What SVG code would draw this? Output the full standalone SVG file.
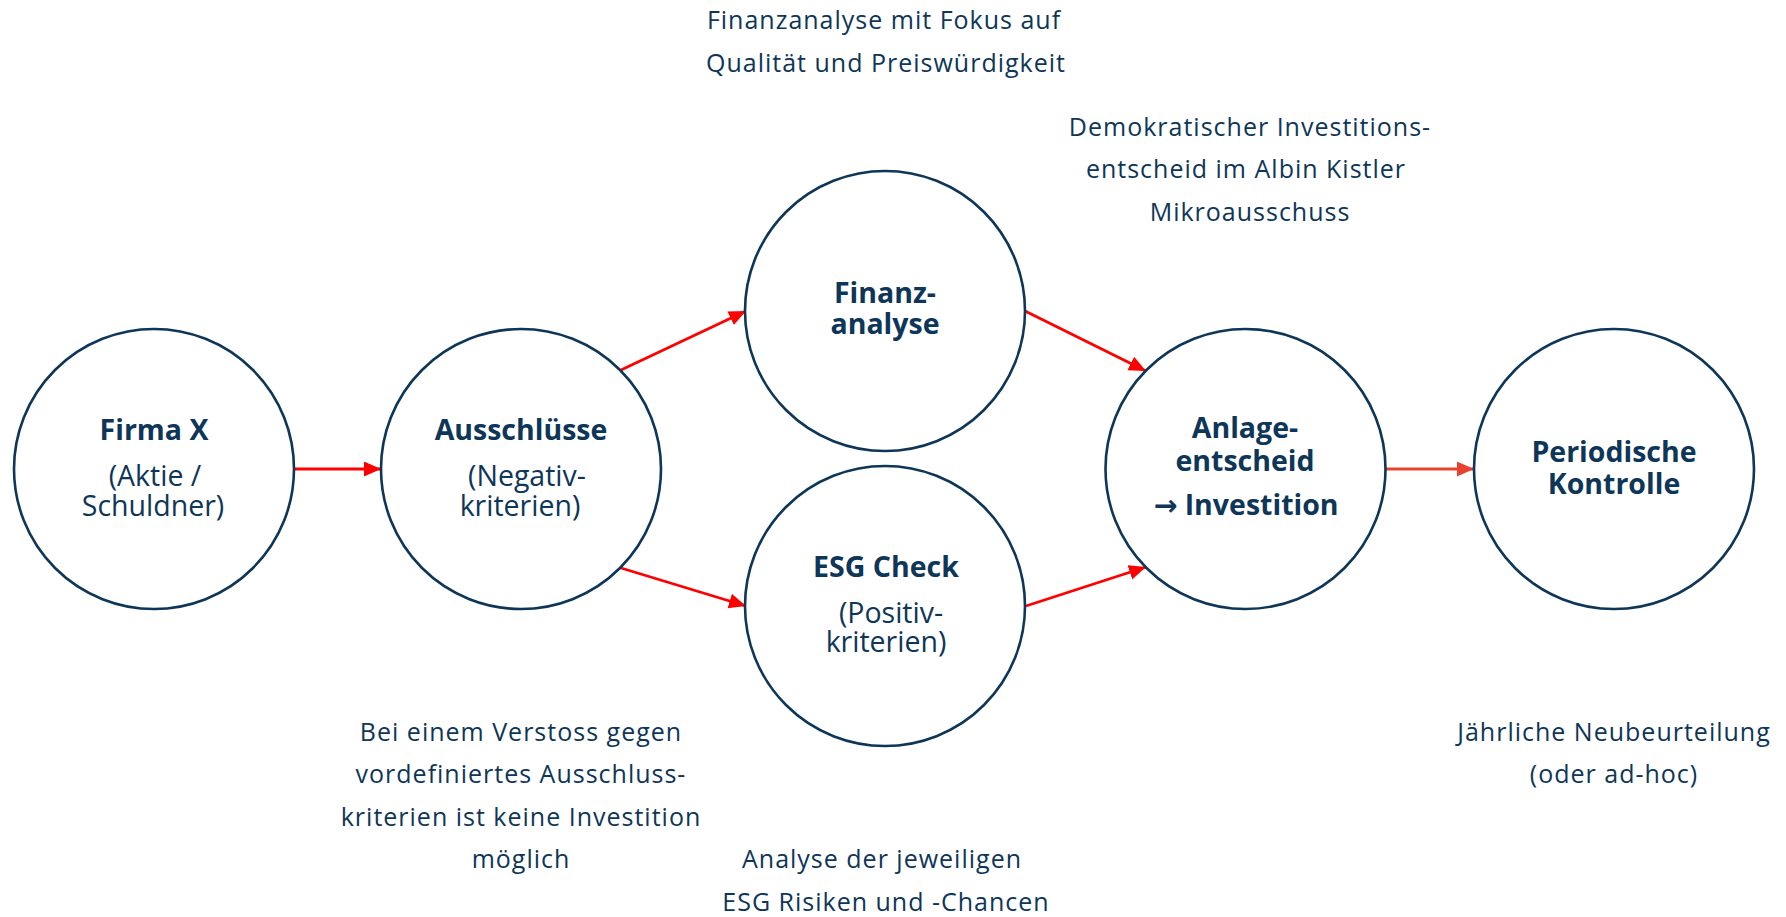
<svg xmlns="http://www.w3.org/2000/svg" width="1786" height="917" viewBox="0 0 1786 917">
  <defs>
    <style>
      .node circle { fill: #ffffff; stroke: #0e3658; stroke-width: 2.6; }
      .title { font-family: "Open Sans", "Noto Sans", "DejaVu Sans", sans-serif; font-size: 28.5px; font-weight: 700; fill: #0e3658; text-anchor: middle; }
      .sub { font-family: "Open Sans", "Noto Sans", "DejaVu Sans", sans-serif; font-size: 28.5px; font-weight: 400; fill: #0e3658; text-anchor: middle; }
      .note { font-family: "Open Sans", "Noto Sans", "DejaVu Sans", sans-serif; font-size: 25px; font-weight: 400; fill: #0e3658; text-anchor: middle; letter-spacing: 1px; }
      .edge { fill: none; stroke: #ff0000; stroke-width: 2.8; }
      .edge.soft { stroke: #e8432f; }
    </style>
    <marker id="head" markerUnits="userSpaceOnUse" markerWidth="18" markerHeight="16" refX="17" refY="7.5" orient="auto">
      <path d="M0,0 L17,7.5 L0,15 Z" fill="#ff0000"/>
    </marker>
    <marker id="head-soft" markerUnits="userSpaceOnUse" markerWidth="18" markerHeight="16" refX="17" refY="7.5" orient="auto">
      <path d="M0,0 L17,7.5 L0,15 Z" fill="#e8432f"/>
    </marker>
  </defs>

  <rect x="0" y="0" width="1786" height="917" fill="#ffffff"/>

  <!-- connectors -->
  <g id="connectors">
    <line class="edge" x1="294" y1="469" x2="381" y2="469" marker-end="url(#head)"/>
    <line class="edge" x1="621" y1="370" x2="746" y2="311" marker-end="url(#head)"/>
    <line class="edge" x1="621" y1="568" x2="746" y2="606" marker-end="url(#head)"/>
    <line class="edge" x1="1025" y1="311" x2="1146" y2="371" marker-end="url(#head)"/>
    <line class="edge" x1="1026" y1="606" x2="1146" y2="567" marker-end="url(#head)"/>
    <line class="edge soft" x1="1385" y1="469" x2="1474" y2="469" marker-end="url(#head-soft)"/>
  </g>

  <!-- process steps -->
  <g id="firma" class="node">
    <circle cx="154" cy="469" r="140"/>
    <text class="title" x="154" y="440">Firma X</text>
    <text class="sub" x="155" y="486">(Aktie /</text>
    <text class="sub" x="153" y="516">Schuldner)</text>
  </g>

  <g id="ausschluesse" class="node">
    <circle cx="521" cy="469" r="140"/>
    <text class="title" x="521" y="440">Ausschlüsse</text>
    <text class="sub" x="527" y="486">(Negativ-</text>
    <text class="sub" x="520" y="516">kriterien)</text>
  </g>

  <g id="finanzanalyse" class="node">
    <circle cx="885" cy="311" r="140"/>
    <text class="title" x="885" y="303">Finanz-</text>
    <text class="title" x="885" y="334">analyse</text>
  </g>

  <g id="esg-check" class="node">
    <circle cx="885" cy="606" r="140"/>
    <text class="title" x="886" y="577">ESG Check</text>
    <text class="sub" x="891" y="623">(Positiv-</text>
    <text class="sub" x="886" y="652">kriterien)</text>
  </g>

  <g id="anlageentscheid" class="node">
    <circle cx="1245.5" cy="469" r="140"/>
    <text class="title" x="1245" y="438">Anlage-</text>
    <text class="title" x="1245" y="471">entscheid</text>
    <text class="title" x="1246" y="515">→ Investition</text>
  </g>

  <g id="kontrolle" class="node">
    <circle cx="1614" cy="469" r="140"/>
    <text class="title" x="1614" y="462">Periodische</text>
    <text class="title" x="1614" y="494">Kontrolle</text>
  </g>

  <!-- explanatory notes -->
  <g id="note-finanz">
    <text class="note" x="884" y="29">Finanzanalyse mit Fokus auf</text>
    <text class="note" x="886" y="72">Qualität und Preiswürdigkeit</text>
  </g>

  <g id="note-anlage">
    <text class="note" x="1250" y="136">Demokratischer Investitions-</text>
    <text class="note" x="1246" y="178">entscheid im Albin Kistler</text>
    <text class="note" x="1250" y="221">Mikroausschuss</text>
  </g>

  <g id="note-ausschluesse">
    <text class="note" x="521" y="741">Bei einem Verstoss gegen</text>
    <text class="note" x="521" y="783">vordefiniertes Ausschluss-</text>
    <text class="note" x="521" y="826">kriterien ist keine Investition</text>
    <text class="note" x="521" y="868">möglich</text>
  </g>

  <g id="note-esg">
    <text class="note" x="882" y="868">Analyse der jeweiligen</text>
    <text class="note" x="886" y="911">ESG Risiken und -Chancen</text>
  </g>

  <g id="note-kontrolle">
    <text class="note" x="1614" y="741">Jährliche Neubeurteilung</text>
    <text class="note" x="1614" y="783">(oder ad-hoc)</text>
  </g>
</svg>
